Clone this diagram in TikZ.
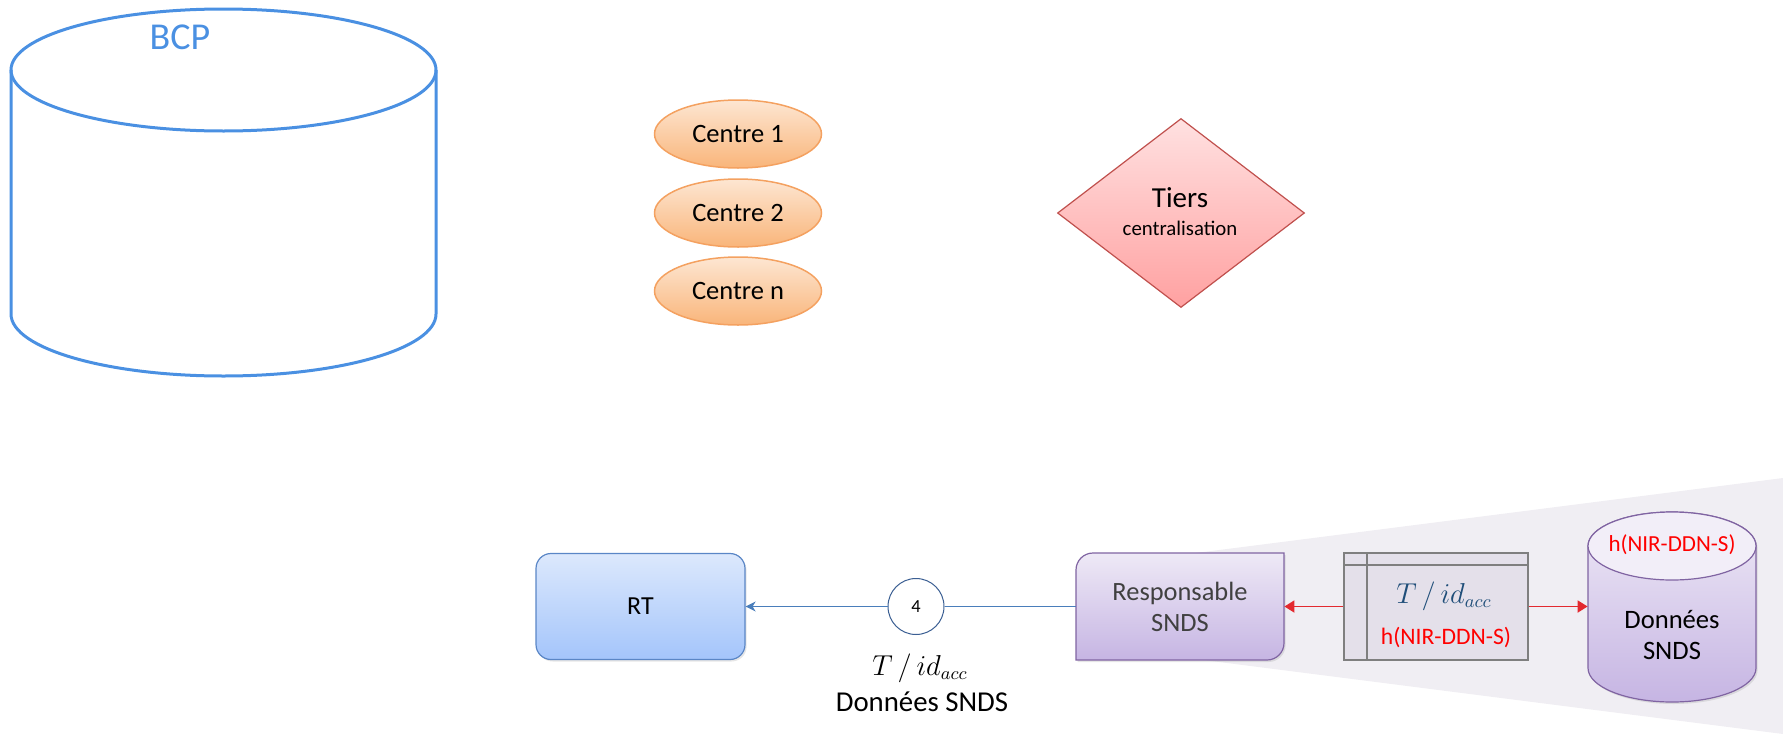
\documentclass[tikz,border=0pt]{standalone}
\usepackage{fontspec}
\setmainfont{Carlito}
\usetikzlibrary{shapes.geometric,arrows.meta,shadows,calc}
\definecolor{bcpblue}{HTML}{4A90E2}
\definecolor{centreborder}{HTML}{F4A160}
\definecolor{centretop}{HTML}{FDE6D2}
\definecolor{centrebot}{HTML}{F9B57A}
\definecolor{tiersborder}{HTML}{C0504D}
\definecolor{tierstop}{HTML}{FFE1E1}
\definecolor{tiersbot}{HTML}{FFA1A1}
\definecolor{rtborder}{HTML}{5A86C6}
\definecolor{rttop}{HTML}{DCE8FC}
\definecolor{rtbot}{HTML}{A4C5FB}
\definecolor{purpborder}{HTML}{8064A2}
\definecolor{purptop}{HTML}{EEE9F6}
\definecolor{purpbot}{HTML}{C6B5E3}
\definecolor{purpcap}{HTML}{F2EEF8}
\definecolor{zonegray}{HTML}{F0EEF3}
\definecolor{tabfill}{HTML}{E4E0EA}
\definecolor{tabborder}{HTML}{7F7F7F}
\definecolor{linkblue}{HTML}{4A7EBB}
\definecolor{circborder}{HTML}{3B5F93}
\definecolor{mathblue}{HTML}{1F4E79}
\definecolor{redarrow}{HTML}{E3292F}
\definecolor{hred}{HTML}{FF0000}
\definecolor{respgray}{HTML}{404040}
\begin{document}
\begin{tikzpicture}[x=0.5pt,y=-0.5pt,
  bcpline/.style={draw=bcpblue,line width=1.5pt},
  centre/.style={ellipse,draw=centreborder,line width=0.75pt,top color=centretop,bottom color=centrebot,
    minimum width=83.5pt,minimum height=34pt,inner sep=0pt,font=\fontsize{13.25pt}{16pt}\selectfont},
  tiersbox/.style={diamond,draw=tiersborder,line width=0.6pt,top color=tierstop,bottom color=tiersbot,
    minimum width=123.5pt,minimum height=94.5pt,inner sep=0pt},
  rtbox/.style={rectangle,rounded corners=7.5pt,draw=rtborder,line width=0.6pt,top color=rttop,bottom color=rtbot,
    minimum width=104.5pt,minimum height=53pt,inner sep=0pt,font=\fontsize{13pt}{15pt}\selectfont,
    drop shadow={shadow xshift=0.8pt,shadow yshift=-1pt,opacity=0.2}},
  purpshape/.style={draw=purpborder,line width=0.6pt,top color=purptop,bottom color=purpbot,
    drop shadow={shadow xshift=0.8pt,shadow yshift=-1pt,opacity=0.2}},
  resptext/.style={rectangle,minimum width=104pt,minimum height=53.5pt,inner sep=0pt,align=center,
    text=respgray,font=\fontsize{13.2pt}{15.5pt}\selectfont},
  tabbox/.style={rectangle,draw=tabborder,line width=0.9pt,fill=tabfill,minimum width=92pt,minimum height=53.5pt,inner sep=0pt},
  tabline/.style={draw=tabborder,line width=0.8pt},
  bluelink/.style={draw=linkblue,line width=0.75pt},
  redlink/.style={draw=redarrow,line width=0.9pt,-{Triangle[length=5pt,width=6pt]}},
  numcirc/.style={circle,draw=circborder,line width=0.5pt,fill=white,minimum size=28pt,inner sep=0pt,
    font=\fontsize{9.2pt}{11pt}\selectfont},
  mathlbl/.style={inner sep=0pt,font=\fontsize{13.5pt}{15pt}\selectfont},
  plain/.style={inner sep=0pt,align=center}
]
\useasboundingbox (0,0) rectangle (1783,734);

% grey zoom zone
\fill[zonegray] (1180,555) -- (1783,478) -- (1783,734) -- (1180,657) -- cycle;

% BCP cylinder
\draw[bcpline] (11,70) -- (11,314) arc[start angle=180,end angle=360,x radius=106.25pt,y radius=31pt] -- (436,70);
\draw[bcpline] (223.5,70) ellipse[x radius=106.25pt,y radius=30.5pt];
\node[plain,text=bcpblue,font=\fontsize{19pt}{22pt}\selectfont] (bcp) at (180,37) {BCP};

% Centres
\node[centre] (c1) at (738,134) {Centre 1};
\node[centre] (c2) at (738,213) {Centre 2};
\node[centre] (cn) at (738,291) {Centre n};

% Tiers
\node[tiersbox] (tiers) at (1181,213) {};
\node[plain,font=\fontsize{14.5pt}{17pt}\selectfont] (tiersA) at (1180,197.5) {Tiers};
\node[plain,font=\fontsize{10.4pt}{12pt}\selectfont] (tiersB) at (1180,228) {centralisation};

% RT
\node[rtbox] (rt) at (640.5,606.5) {RT};

% Responsable SNDS
\path[purpshape] (1076,660) -- (1076,570) arc[start angle=180,end angle=90,radius=8.5pt] -- (1284,553)
  -- (1284,643) arc[start angle=0,end angle=-90,radius=8.5pt] -- cycle;
\node[resptext] (resp) at (1180,606.5) {Responsable\\SNDS};

% table
\node[tabbox] (tab) at (1436,606.5) {};
\draw[tabline] ($(tab.north west)+(0,13)$) -- ($(tab.north east)+(0,13)$);
\draw[tabline] ($(tab.north west)+(24,0)$) -- ($(tab.south west)+(24,0)$);
\node[mathlbl,text=mathblue] (tabT) at (1444,596) {$T\,/\,id_{acc}$};
\node[plain,text=hred,font=\fontsize{11.8pt}{14pt}\selectfont] (tabH) at (1446,637) {h(NIR-DDN-S)};

% Donnees SNDS cylinder
\path[purpshape] (1588,546) -- (1588,668) arc[start angle=180,end angle=360,x radius=42pt,y radius=17pt]
  -- (1756,546) arc[start angle=0,end angle=180,x radius=42pt,y radius=17pt] -- cycle;
\draw[draw=purpborder,line width=0.6pt,fill=purpcap] (1672,546) ellipse[x radius=42pt,y radius=17pt];
\node[rectangle,minimum width=84pt,minimum height=95pt,inner sep=0pt] (db) at (1672,606.5) {};
\node[plain,text=hred,font=\fontsize{11.5pt}{14pt}\selectfont] (dbH) at (1672,545) {h(NIR-DDN-S)};
\node[plain,font=\fontsize{13.3pt}{15.5pt}\selectfont] (dbT) at (1672,634.5) {Données\\SNDS};

% connectors
\node[numcirc] (n4) at (916,606.5) {4};
\draw[bluelink] (resp.west) -- (n4.east);
\draw[bluelink,-{Stealth[length=5pt,width=5pt,inset=1.5pt]}] (n4.west) -- (rt.east);
\draw[redlink] (tab.west) -- (resp.east);
\draw[redlink] (tab.east) -- (tab.east -| db.west);

% labels under arrow 4
\node[mathlbl] (lblT) at (920,668) {$T\,/\,id_{acc}$};
\node[plain,font=\fontsize{14.4pt}{17pt}\selectfont] (lblD) at (922,702) {Données SNDS};
\end{tikzpicture}
\end{document}
